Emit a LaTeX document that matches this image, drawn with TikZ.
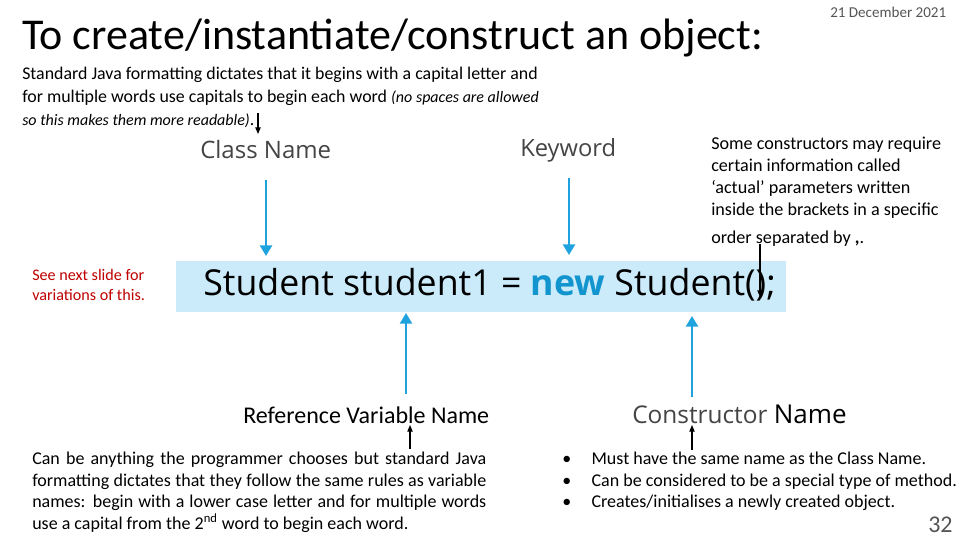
\documentclass[tikz,border=0pt]{standalone}
\usepackage{fontspec}
\setmainfont{Carlito}
\newfontfamily\seg{Open Sans}
\usetikzlibrary{arrows.meta}
\definecolor{barblue}{HTML}{CBEBFA}
\definecolor{arrblue}{HTML}{1FA3DE}
\definecolor{newblue}{HTML}{1295CF}
\definecolor{grey}{HTML}{555555}
\begin{document}
\begin{tikzpicture}[x=0.75pt,y=-0.75pt,
  lab/.style={inner sep=0pt,anchor=west},
  barrow/.style={arrblue,line width=1.8pt,-{Triangle[length=8pt,width=9pt]}},
  karrow/.style={black,line width=0.8pt,-{Triangle[length=5pt,width=4pt]}}]
\useasboundingbox[fill=white] (0,0) rectangle (960,540);
\node[lab,font=\fontsize{33}{38}\selectfont] (title) at (22,38) {To create/instantiate/construct an object:};
\node[lab,font=\fontsize{11.3}{13}\selectfont,text=grey] (date) at (830,12) {21 December 2021};
\node[lab,anchor=north west,align=left,font=\fontsize{13.4}{17.2}\selectfont] (intro) at (22,67) {Standard Java formatting dictates that it begins with a capital letter and\\
for multiple words use capitals to begin each word {\itshape\fontsize{12}{17.2}\selectfont(no spaces are allowed}\\
{\itshape\fontsize{12}{17.2}\selectfont so this makes them more readable)}.};
\node[lab,font=\seg\fontsize{18}{22}\selectfont,text=grey!80!black] (cls) at (200,149) {Class Name};
\node[lab,font=\seg\fontsize{17.8}{22}\selectfont,text=grey!80!black] (kw) at (520,150) {Keyword};
\node[lab,anchor=north west,align=left,font=\fontsize{13.6}{16.5}\selectfont] (cons) at (711,137) {Some constructors may require\\certain information called\\‘actual’ parameters written\\inside the brackets in a specific\\[4pt]order separated by \textbf{,}.};
\node[lab,align=left,anchor=west,font=\fontsize{12.1}{14.5}\selectfont,text=red!75!black] (see) at (32,285) {See next slide for\\variations of this.};
\fill[barblue] (176,261) rectangle (786,312);
\node[lab,font=\seg\fontsize{26.8}{30}\selectfont] (code) at (203,285) {Student student1 = \textcolor{newblue}{\textbf{new}} Student();};
\node[lab,font=\fontsize{18}{20}\selectfont] (ref) at (243,415) {Reference Variable Name};
\node[lab,font=\seg\fontsize{18.3}{20}\selectfont] (cn) at (632,414) {\color{grey!80!black}Constructor\ \color{black}\fontsize{19.5}{20}\selectfont Name};
\node[lab,anchor=north west,text width=340.5pt,align=justify,font=\fontsize{13.5}{16.1}\selectfont] (desc) at (32,452) {Can be anything the programmer chooses but standard Java formatting dictates that they follow the same rules as variable names: begin with a lower case letter and for multiple words use a capital from the 2\textsuperscript{nd} word to begin each word.};
\node[lab,anchor=north west,align=left,font=\fontsize{13.5}{16.1}\selectfont] (bul) at (562,452) {•\ \ \ \ \ Must have the same name as the Class Name.\\•\ \ \ \ \ Can be considered to be a special type of method.\\•\ \ \ \ \ Creates/initialises a newly created object.};
\node[lab,font=\fontsize{18}{20}\selectfont,text=grey] (pg) at (928,525) {32};
\coordinate (c1) at (266,180); \coordinate (c2) at (266,256);
\coordinate (k1) at (569,178); \coordinate (k2) at (569,255);
\coordinate (r1) at (406,394); \coordinate (r2) at (406,313);
\coordinate (n1) at (692,397); \coordinate (n2) at (692,316);
\draw[barrow] (c1) -- (c2);
\draw[barrow] (k1) -- (k2);
\draw[barrow] (r1) -- (r2);
\draw[barrow] (n1) -- (n2);
\coordinate (a1) at (258,113); \coordinate (a2) at (258,134);
\coordinate (b1) at (760,244); \coordinate (b2) at (760,297);
\coordinate (d1) at (410,449); \coordinate (d2) at (410,425);
\coordinate (e1) at (692,450); \coordinate (e2) at (692,425);
\draw[karrow] (a1) -- (a2);
\draw[karrow] (b1) -- (b2);
\draw[karrow] (d1) -- (d2);
\draw[karrow] (e1) -- (e2);
\end{tikzpicture}
\end{document}
